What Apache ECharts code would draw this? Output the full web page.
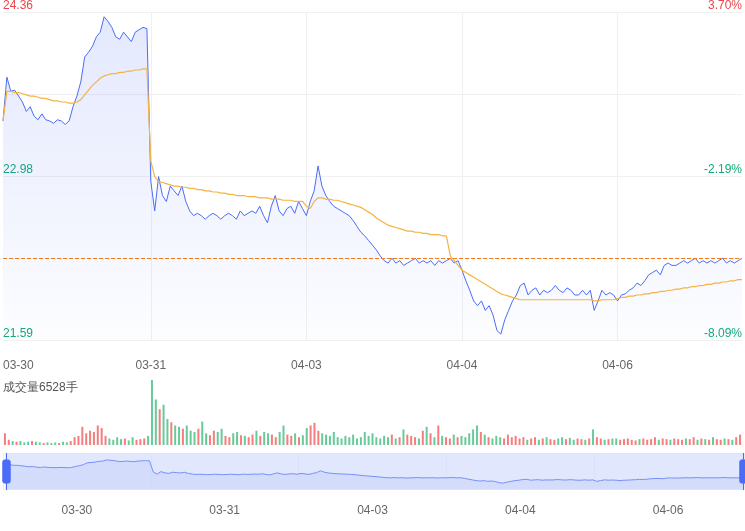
<!DOCTYPE html>
<html><head><meta charset="utf-8">
<script src="https://cdn.jsdelivr.net/npm/echarts@6/dist/echarts.min.js"></script>
<style>html,body{margin:0;padding:0;background:#fff}#c{width:745px;height:531px}</style>
</head><body><div id="c"></div>
<script>
var dayLabels = ['03-30','03-31','04-03','04-04','04-06'];
var dayLengths = [38,40,40,40,33];
var yTicks = ['24.36','22.98','21.59'];
var pctTicks = ['3.70%','-2.19%','-8.09%'];
var refPrice = 22.28;
var price = [
23.44,23.81,23.69,23.70,23.65,23.60,23.52,23.56,23.48,23.45,23.50,23.45,23.44,23.42,23.45,23.44,23.41,23.44,23.56,23.65,23.77,23.98,24.02,24.07,24.15,24.19,24.32,24.28,24.23,24.15,24.13,24.19,24.15,24.11,24.19,24.21,24.23,24.22,
22.93,22.68,22.97,22.81,22.76,22.89,22.85,22.81,22.89,22.76,22.68,22.64,22.66,22.64,22.61,22.64,22.66,22.64,22.61,22.64,22.66,22.64,22.61,22.68,22.64,22.66,22.68,22.66,22.72,22.64,22.58,22.72,22.81,22.68,22.64,22.70,22.72,22.66,22.76,22.70,
22.64,22.76,22.85,23.06,22.89,22.81,22.76,22.72,22.70,22.68,22.66,22.64,22.60,22.55,22.50,22.47,22.43,22.39,22.35,22.30,22.26,22.24,22.28,22.24,22.26,22.22,22.24,22.26,22.28,22.24,22.26,22.24,22.26,22.22,22.26,22.24,22.26,22.28,22.24,22.26,
22.18,22.09,22.01,21.92,21.88,21.92,21.84,21.88,21.80,21.67,21.64,21.76,21.84,21.92,21.97,22.05,22.07,21.97,22.01,22.03,21.97,22.01,21.99,22.01,22.05,22.01,21.99,22.03,22.01,21.97,21.97,22.01,21.97,22.01,21.84,21.92,22.01,21.97,21.99,21.97,
21.92,21.97,21.98,22.01,22.03,22.07,22.05,22.09,22.14,22.16,22.18,22.14,22.22,22.24,22.22,22.22,22.24,22.26,22.24,22.26,22.28,22.24,22.26,22.24,22.26,22.24,22.26,22.28,22.24,22.26,22.24,22.26,22.28];
var avgPrice = [
23.44,23.69,23.69,23.68,23.68,23.67,23.66,23.65,23.65,23.64,23.63,23.63,23.62,23.61,23.61,23.60,23.60,23.59,23.59,23.60,23.62,23.66,23.70,23.74,23.77,23.80,23.82,23.83,23.84,23.84,23.85,23.85,23.86,23.86,23.87,23.87,23.88,23.88,
23.10,22.97,22.93,22.92,22.91,22.90,22.89,22.89,22.88,22.88,22.87,22.87,22.86,22.86,22.85,22.85,22.84,22.84,22.83,22.83,22.82,22.82,22.81,22.81,22.81,22.80,22.80,22.80,22.79,22.79,22.79,22.78,22.78,22.78,22.77,22.77,22.77,22.76,22.76,22.76,
22.72,22.70,22.76,22.79,22.79,22.78,22.78,22.77,22.77,22.76,22.75,22.74,22.73,22.72,22.71,22.69,22.67,22.65,22.62,22.60,22.58,22.56,22.55,22.54,22.53,22.52,22.51,22.51,22.50,22.50,22.49,22.49,22.48,22.48,22.48,22.47,22.47,22.30,22.26,22.22,
22.18,22.16,22.14,22.12,22.10,22.08,22.06,22.04,22.02,22.00,21.98,21.97,21.96,21.95,21.94,21.93,21.93,21.93,21.93,21.93,21.93,21.93,21.93,21.93,21.93,21.93,21.93,21.93,21.93,21.93,21.93,21.93,21.93,21.93,21.92,21.92,21.93,21.93,21.93,21.93,
21.94,21.95,21.95,21.96,21.96,21.97,21.97,21.98,21.98,21.99,21.99,22.00,22.00,22.01,22.01,22.02,22.02,22.03,22.03,22.04,22.04,22.05,22.05,22.06,22.06,22.07,22.07,22.08,22.08,22.09,22.09,22.10,22.10];
var volume = [
18,8,6,5,6,4,5,6,5,4,3,4,3,4,3,5,4,6,12,14,28,18,22,20,30,26,14,10,8,12,9,10,7,12,8,9,10,14,
100,70,55,62,40,35,30,28,25,30,22,20,25,36,18,15,22,20,25,14,12,18,20,15,14,12,16,22,14,20,18,16,12,20,30,16,14,18,12,15,
26,30,34,22,18,16,14,20,12,10,14,12,16,10,12,20,14,18,12,10,14,12,16,10,12,24,16,14,12,10,22,28,18,12,30,14,12,10,16,12,
14,12,18,24,30,20,16,12,10,14,12,10,16,12,14,10,12,8,10,12,8,10,12,9,8,10,12,9,11,8,10,9,8,10,24,12,10,8,9,10,
10,8,9,10,8,7,9,10,8,9,12,8,10,9,8,10,9,8,10,9,12,8,10,9,8,12,9,8,10,9,8,12,16];

var cats = [], dayStart = {};
(function(){var k=0;for(var d=0;d<dayLengths.length;d++){dayStart[k]=dayLabels[d];for(var i=0;i<dayLengths[d];i++){cats.push(dayLabels[d]+' '+i);k++;}}})();
var volData = volume.map(function(v,i){var up = i===0 ? true : price[i]>=price[i-1];
  return {value:v,itemStyle:{color: up?'rgba(242,82,82,0.75)':'rgba(38,180,110,0.7)'}};});
var ymin=21.59, ymax=24.36, yint=(ymax-ymin)/4;
var lblColor=function(v,i){return i===0?'#14a97a':(i===2?'#14a97a':'#e8464b');};
var chart = echarts.init(document.getElementById('c'));
chart.setOption({
  animation:false,
  grid:[{left:3,right:3,top:10,height:330},{left:3,right:3,top:380,height:65},{left:3,right:3,top:453,height:37}],
  xAxis:[
   {type:'category',data:cats,gridIndex:0,boundaryGap:false,axisLine:{show:false},axisTick:{show:false},
    axisLabel:{color:'#666',fontSize:12,margin:20,alignMinLabel:'left',interval:function(i){return dayStart[i]!==undefined;},formatter:function(v){return v.split(' ')[0];}},
    splitLine:{show:true,interval:function(i){return dayStart[i]!==undefined && i>0;},lineStyle:{color:'#f0f0f0'}}},
   {type:'category',data:cats,gridIndex:1,axisLine:{show:false},axisTick:{show:false},axisLabel:{show:false},
    splitLine:{show:false}},
   {type:'category',data:dayLabels,gridIndex:2,boundaryGap:true,axisLine:{show:false},axisTick:{show:false},
    axisLabel:{color:'#666',fontSize:12,margin:15},splitLine:{show:true,lineStyle:{color:'#e8ebf5'}}}
  ],
  yAxis:[
   {type:'value',gridIndex:0,min:ymin,max:ymax,interval:yint,position:'left',axisLine:{show:false},axisTick:{show:false},
    splitLine:{lineStyle:{color:'#f0f0f0'}},
    axisLabel:{inside:true,verticalAlign:'bottom',fontSize:12,margin:0,
      formatter:function(v,i){return i%2===0?yTicks[2-i/2]:'';},
      color:function(v,i){var d=Math.abs(v-ymax)<0.01;return d?'#e8464b':'#14a97a';}}},
   {type:'value',gridIndex:0,min:ymin,max:ymax,interval:yint,position:'right',axisLine:{show:false},axisTick:{show:false},
    splitLine:{show:false},
    axisLabel:{inside:true,verticalAlign:'bottom',fontSize:12,margin:0,
      formatter:function(v,i){return i%2===0?pctTicks[2-i/2]:'';},
      color:function(v,i){var d=Math.abs(v-ymax)<0.01;return d?'#e8464b':'#14a97a';}}},
   {type:'value',gridIndex:1,axisLine:{show:false},axisTick:{show:false},axisLabel:{show:false},splitLine:{show:false},max:100},
   {type:'value',gridIndex:2,show:false}
  ],
  dataZoom:[{type:'slider',xAxisIndex:[0,1],start:0,end:100,left:3,right:3,top:453,height:37,
    showDetail:false,borderColor:'#dfe4f5',backgroundColor:'rgba(225,231,252,0.6)',
    fillerColor:'rgba(200,212,250,0.35)',
    handleStyle:{color:'#4a6cf7',borderColor:'#4a6cf7'},handleSize:'100%',
    moveHandleSize:0,
    dataBackground:{lineStyle:{color:'#4a6cf7',width:1,opacity:1},areaStyle:{color:'#c8d2fa',opacity:0.5}},
    selectedDataBackground:{lineStyle:{color:'#4a6cf7',width:1},areaStyle:{color:'#c8d2fa',opacity:0.5}}}],
  graphic:[{type:'text',left:3,top:382,style:{text:'成交量6528手',fill:'#555',fontSize:12}}],
  series:[
   {type:'line',name:'price',data:price,xAxisIndex:0,yAxisIndex:0,symbol:'none',lineStyle:{color:'#4a6cf7',width:1},
    areaStyle:{color:new echarts.graphic.LinearGradient(0,0,0,1,[{offset:0,color:'rgba(74,108,247,0.22)'},{offset:1,color:'rgba(74,108,247,0.02)'}])},
    markLine:{silent:true,symbol:'none',label:{show:false},lineStyle:{color:'#f07c1e',type:'dashed',width:1},data:[{yAxis:refPrice}]}},
   {type:'line',name:'avg',data:avgPrice,xAxisIndex:0,yAxisIndex:0,symbol:'none',lineStyle:{color:'#f5b342',width:1.2}},
   {type:'bar',data:volData,xAxisIndex:1,yAxisIndex:2,barWidth:2}
  ]
});
</script></body></html>
